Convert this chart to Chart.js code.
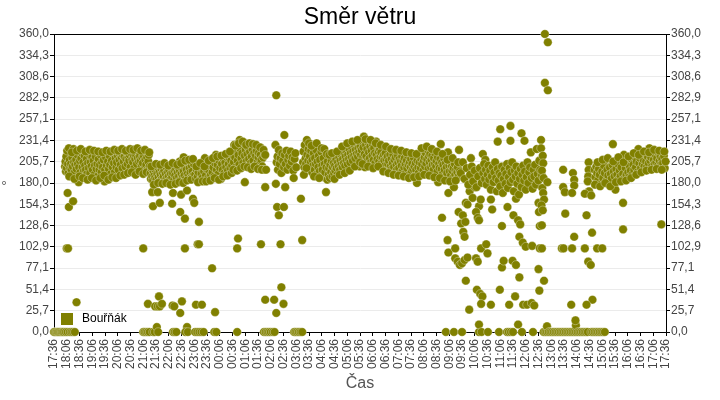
<!DOCTYPE html>
<html>
<head>
<meta charset="utf-8">
<title>Směr větru</title>
<script src="https://cdn.jsdelivr.net/npm/chart.js@4/dist/chart.umd.min.js"></script>
<style>
  html, body { margin: 0; padding: 0; background: #fff; }
  #wrap { width: 720px; height: 400px; }
</style>
</head>
<body>
<div id="wrap"><canvas id="chart" width="720" height="400"></canvas></div>
<script>
"use strict";

const OLIVE = "#808000";
const SERIES_LABEL = "Bouřňák";

// x = minutes after 17:36, y = wind direction in degrees
const TIME_LABELS = ["17:36","18:06","18:36","19:06","19:36","20:06","20:36","21:06","21:36","22:06","22:36","23:06","23:36","00:06","00:36","01:06","01:36","02:06","02:36","03:06","03:36","04:06","04:36","05:06","05:36","06:06","06:36","07:06","07:36","08:06","08:36","09:06","09:36","10:06","10:36","11:06","11:36","12:06","12:36","13:06","13:36","14:06","14:36","15:06","15:36","16:06","16:36","17:06","17:36"];
const Y_TICKS = [0, 25.714, 51.429, 77.143, 102.857, 128.571, 154.286, 180, 205.714, 231.429, 257.143, 282.857, 308.571, 334.286, 360];
const Y_LABELS = ["0,0","25,7","51,4","77,1","102,9","128,6","154,3","180,0","205,7","231,4","257,1","282,9","308,6","334,3","360,0"];

const evening = [
  [0,0],[3,0],[6,0],[9,0],[12,0],[15,0],[18,0],[21,0],[24,0],[28,0],[32,0],[37,0],[41,0],[45,0],[49,0],
  [30,101],[33,101],[32,168],[35,151],[45,158],[53,36],
  [26,200],[27,206],[28,194],[29,212],[30,198],[31,219],[33,203],[34,192],[35,222],[37,208],[38,198],[40,203],[41,196],[43,211],[44,200],[46,221],[47,205],[49,193],[50,202],[52,208],[53,197],[55,214],[56,203],[58,181],[59,199],[61,207],[62,193],[64,210],[66,216],[67,199],[69,205],[70,194],[72,213],[73,201],[75,196],[77,209],[78,191],[80,204],[82,198],[83,215],[85,192],[86,205],[88,200],[90,211],[91,196],[93,207],[95,190],[96,201],[98,212],[100,197],[102,203],[103,188],[105,209],[107,196],[108,202],[110,214],[112,193],[113,205],[115,199],[117,208],[119,182],[120,196],[122,211],[124,201],[125,190],[127,206],[129,197],[131,213],[132,202],[134,191],[136,207],[138,199],[139,216],[141,204],[143,193],[145,210],[147,199],[148,205],[150,213],[152,196],[154,208],[155,215],[157,202],[159,211],[161,198],[162,214],[164,206],[166,212],[168,200],[170,209],[171,217],[173,203],[175,211],[177,207],[178,214],[180,199],[182,216],[184,208],[186,205],[188,212],[189,198],[191,209],[193,214],[195,203],[197,210],[199,218],[200,206],[202,212],[204,207],[206,200],[208,211],[209,204],[211,213],[213,197],[215,208],[217,202],[219,211],[220,196],[222,206],[223,214],[225,200],
  [36,188],[42,217],[48,185],[54,219],[60,188],[63,221],[68,186],[74,218],[79,184],[84,220],[89,186],[94,219],[99,183],[104,218],[109,186],[114,217],[118,189],[123,219],[128,184],[133,218],[137,187],[142,220],[146,186],[151,219],[156,189],[160,221],[165,190],[169,219],[174,192],[179,221],[183,193],[187,220],[192,190],[196,222],[201,194],[205,219],[210,191],[214,220],[218,193],[224,217]
];

const lateEvening = [
  [210,101],[210,0],[213,0],[217,0],[221,0],[225,0],[221,34],[233,0],[237,0],[242,6],[245,0],[238,31],[244,31],[249,31],[247,43],[254,34],
  [231,169],[244,169],[233,152],[249,156],[278,155],[280,168],[279,32],[283,31],[280,0],[284,0],[288,0],
  [299,166],[313,171],[297,145],[308,137],[308,101],[301,37],[297,23],[313,6],[309,0],[315,0],
  [227,192],[228,185],[230,197],[231,188],[233,183],[234,194],[236,189],[238,186],[239,196],[241,184],[243,191],[244,199],[246,187],[248,193],[249,182],[251,190],[253,197],[254,185],[256,192],[258,188],[259,195],[261,183],[263,191],[265,199],[266,186],[268,193],[270,188],[271,196],[273,184],[275,191],[277,198],[278,187],[280,192],[280,203],[282,183],[284,195],[285,189],[287,197],[289,186],[291,193],[292,199],[294,188],[296,195],[296,206],[298,184],[300,191],[301,198],[303,187],[305,194],[305,211],[307,189],[308,200],[310,185],[312,196],[314,191],[315,205],[317,188],[319,198],[321,193],[322,186],[324,201],[326,194],[328,189],[329,203],
  [229,200],[235,178],[240,203],[245,180],[250,202],[255,179],[260,204],[264,180],[269,201],[274,178],[279,204],[286,179],[290,202],[295,181],[299,204],[304,180],[309,207],[313,183],[318,208],[323,184],[327,209]
];

const night = [
  [327,161],[330,156],[341,133],[338,106],[341,106],[372,77],[433,113],[431,101],[449,181],[487,106],[497,175],[334,33],[348,33],[379,24],
  [332,0],[337,0],[342,0],[347,0],[352,0],[377,0],[382,0],[431,0],
  [332,190],[334,185],[336,196],[338,188],[340,193],[343,183],[345,198],[347,191],[349,186],[351,200],[353,194],[355,210],[357,189],[359,197],[361,203],[363,186],[365,195],[367,201],[369,190],[371,206],[373,193],[375,199],[377,188],[379,204],[381,214],[383,196],[385,202],[387,191],[389,207],[391,198],[393,185],[395,203],[397,196],[399,209],[401,192],[403,205],[405,199],[407,211],[409,195],[411,203],[413,210],[415,198],[417,207],[419,201],[421,214],[423,205],[424,226],[426,211],[428,199],[430,218],[432,207],[434,214],[436,202],[437,232],[439,221],[441,210],[443,216],[445,204],[447,229],[449,213],[451,220],[453,206],[455,215],[457,223],[459,209],[461,218],[463,204],[465,212],[467,221],[469,207],[471,216],[473,201],[475,213],[477,219],[479,205],[481,211],[482,216],[484,203],[486,214],[488,208],[490,200],[492,211],[494,196],[496,214],
  [335,200],[339,181],[344,204],[350,182],[354,200],[358,182],[364,207],[368,183],[374,210],[378,186],[384,212],[388,184],[394,213],[398,188],[404,215],[408,189],[414,218],[418,192],[422,196],[427,225],[431,195],[435,228],[440,198],[444,230],[448,200],[452,226],[456,199],[460,228],[464,197],[468,227],[472,200],[476,226],[480,197],[485,223],[489,196],[493,220],
  [497,214],[499,196],[497,39],[518,39],[540,34],[523,23],[494,0],[498,0],[502,0],[506,0],[510,0],[515,0],[519,0],
  [523,286],[542,238],[521,226],[522,179],[544,175],[525,151],[541,151],[529,141],[533,106],[535,54],
  [524,205],[526,212],[527,196],[529,220],[531,203],[533,210],[535,192],[537,216],[539,207],[541,199],[543,214],[545,203],[547,219],[549,196],[551,208],[553,213],[555,201],[557,218],[559,206],[561,211],[563,195],[564,186],[566,209],[568,216],[570,199],
  [565,0],[568,0],[572,0],[576,0],[580,0],[584,0],[581,161],[584,111]
];

const morning = [
  [586,205],[587,218],[589,199],[590,226],[592,210],[593,203],[595,232],[596,214],[598,207],[599,221],[601,198],[602,212],[604,205],[605,219],[607,193],[608,208],[610,201],[611,216],[613,196],[614,210],[616,203],[617,220],[619,191],[620,206],[622,199],[623,213],[625,194],[626,208],[628,188],[629,218],[631,201],[632,196],[634,210],[635,187],[637,203],[638,193],[640,169],[641,199],[643,184],[644,206],[646,190],[647,198],[649,186],[650,202],[652,193],[653,207],[655,188],[656,199],[658,204],[659,192],
  [661,201],[662,195],[664,208],[665,198],[667,190],[668,205],[670,200],[671,211],[673,196],[674,207],[676,202],[677,214],[679,199],[680,209],[682,204],[683,216],[685,201],[686,212],[688,207],[689,219],[691,203],[692,214],[694,209],[695,221],[697,205],[698,216],[700,211],[701,223],[703,207],[704,218],[706,213],[707,226],[709,210],[710,220],[712,215],[713,228],[715,212],[716,222],[718,217],[719,200],[721,224],[722,214],
  [724,220],[725,230],[727,211],[728,223],[729,236],[731,215],[732,199],[734,226],[735,212],[737,221],[738,207],[740,229],[741,217],[743,210],[744,224],[746,205],[747,219],[749,213],[750,227],[752,208],[753,222],[755,216],[756,204],[758,230],[759,214],[761,209],[762,225],[764,218],[765,206],[767,221],[768,212],
  [770,217],[771,204],[773,211],[774,199],[776,214],[777,207],[779,201],[780,216],[782,209],[783,196],[785,212],[786,203],[788,207],[789,194],[791,214],[792,200],[794,209],[795,197],[797,204],[798,215],[800,199],[801,208],[803,193],[804,211],[806,202],[807,196],[809,213],[810,205],[812,198],[813,209],[815,192],[816,206],[818,201],[819,212],[821,195],[822,207],
  [824,199],[825,210],[827,203],[828,192],[830,207],[831,198],[833,213],[834,202],[836,190],[837,205],[839,199],[840,209],[842,194],[843,203],[845,197],[846,211],[848,200],[849,188],[851,204],[852,196],[854,180],[855,207],[857,199],[858,192],
  [860,205],[861,214],[863,198],[864,209],[866,203],[867,218],[869,195],[870,207],[872,211],[873,200],[875,216],[876,204],[878,209],[879,220],[881,197],[882,212],[884,205],[885,215],[887,199],[888,208],[890,213],[891,202],[893,196],[894,210],[896,203],[897,216],[899,200],[900,207],[902,194],[903,211],[904,181],[906,203],[907,198],[909,209],[910,227],[912,197],[913,205],[915,191],[916,202],[918,210],[919,196],[921,188],[922,204],[924,199],[925,192],[927,217],[928,168],[930,201],[931,194],[933,206],[934,189],[936,200],[937,195],[939,186],[940,198],[941,175],[943,203],[944,190],[946,196],[947,185],[949,193],[950,199],[952,188],[953,220],[955,194],
  [588,190],[594,198],[600,228],[606,225],[612,188],[618,228],[624,186],[630,222],[636,221],[642,215],[648,214],[654,216],[660,185],[666,218],[672,190],[678,224],[684,192],[690,228],[696,195],[702,230],[708,200],[714,232],[720,205],[726,203],[733,233],[739,200],[745,232],[751,198],[757,228],[763,200],[769,226],[775,194],[781,224],[787,192],[793,221],[799,190],[805,220],[811,189],[817,219],[823,188],[829,217],[835,186],[841,216],[847,187],[853,215],[859,188],[865,222],[871,190],[877,224],[883,189],[889,221],[895,187],[901,218],[908,186],[914,215],[920,183],[926,208],[932,182],[938,210],[945,183],[951,205],
  [913,138],[926,111],[928,96],[944,101],[922,0],[941,0],[960,0]
];

const midday = [
  [944,89],[950,85],[955,81],[960,83],[966,87],[973,90],[969,62],[977,27],[952,145],[962,141],[958,131],[968,133],[963,121],[966,115],
  [969,156],[973,154],[978,170],[985,162],[990,175],[1000,152],[1004,160],[981,210],[1009,215],[1015,208],[993,145],[997,138],[1000,135],
  [993,89],[997,85],[1005,101],[1017,106],[1020,95],[995,51],[1003,46],[1008,43],[1005,34],[1028,33],[1031,148],[1028,160],
  [1044,230],[1050,245],[1074,249],[1074,231],[1100,240],[1107,231],[1054,128],[1054,78],[1058,86],[1079,86],[1087,81],[1049,51],[1071,33],[1085,43],[1095,66],
  [1067,151],[1081,141],[1087,161],[1092,135],[1097,130],[1095,115],[1103,108],[1110,103],[1125,104],[1104,33],[1113,33],[1124,35],[1130,32],
  [1140,156],[1141,145],[1143,128],[1143,101],[1140,76],[1142,50],
  [1000,0],[1000,9],[1006,0],[1021,0],[1047,0],[1066,0],[1070,0],[1075,0],[1080,0],[1092,9],[1101,0],[1127,0],
  [957,192],[962,205],[966,185],[971,198],[975,178],[979,190],[983,200],[986,182],[990,195],[994,175],[998,188],[1002,198],[1006,180],[1010,192],[1012,203],[1014,185],[1016,196],[1018,178],[1020,190],[1022,201],[1024,184],[1026,195],[1028,172],[1030,188],[1032,199],[1034,181],[1036,193],[1038,205],[1040,186],[1042,170],[1044,197],[1046,183],[1048,192],[1050,176],[1052,189],[1054,200],[1056,168],[1058,185],[1060,196],[1062,179],[1064,191],[1066,203],[1068,174],[1070,187],[1072,198],[1074,181],[1076,193],[1078,205],[1080,184],[1082,170],[1084,195],[1086,188],[1088,200],[1090,179],[1092,192],[1094,166],[1096,185],[1098,197],[1100,175],[1102,190],[1104,201],[1106,183],[1108,194],[1110,172],[1112,187],[1114,205],[1116,180],[1118,193],[1120,199],[1122,217],[1124,186],[1126,173],[1128,196],[1130,188],[1132,202],[1134,178],[1136,221],[1138,191],[1140,183],[1142,207],[1144,196],[1146,232],[1148,189]
];

const afternoon = [
  [1155,360],[1162,350],[1155,301],[1162,292],[1146,222],[1150,213],[1151,204],[1148,195],[1152,186],[1149,174],[1151,168],[1153,160],[1147,153],[1150,147],[1161,181],[1148,129],[1148,101],[1153,62],
  [1152,0],[1156,0],[1160,0],[1160,7],[1164,0],[1168,0],[1172,0],[1176,0],[1180,0],[1184,0],[1188,0],[1192,0],[1196,0],[1200,0],[1204,0],[1208,0],[1212,0],[1216,0],[1220,0],[1224,0],[1228,0],[1228,8],[1227,14],[1232,0],[1236,0],[1240,0],[1244,0],[1248,0],[1252,0],[1256,0],
  [1264,0],[1268,0],[1272,0],[1276,0],[1280,0],[1284,0],[1288,0],[1292,0],[1296,0],
  [1198,196],[1198,175],[1202,169],[1203,143],[1195,101],[1199,101],[1217,33],
  [1221,192],[1224,184],[1224,177],[1219,168],[1224,115],[1219,101],
  [1258,205],[1258,196],[1257,188],[1256,182],[1259,170],[1249,167],[1264,165],[1253,141],[1266,120],[1249,101],[1257,85],[1263,81],[1267,39],[1253,33],
  [1278,101],[1290,101],[1339,156],[1339,124],[1429,130],
  [1272,196],[1274,187],[1276,200],[1278,192],[1280,183],[1282,197],[1284,190],[1286,205],[1288,179],[1290,194],[1292,186],[1294,201],[1296,192],[1298,208],[1300,183],[1302,196],[1304,189],[1306,178],[1308,199],[1310,191],[1312,185],[1314,202],[1315,227],[1317,194],[1319,188],[1321,172],[1323,197],[1325,190],[1327,203],[1329,185],[1331,195],[1333,188],[1335,199],[1337,211],[1339,191],[1341,214],[1343,186],[1345,198],[1347,190],[1349,204],[1351,193],[1353,187],[1355,200],[1357,195],[1359,209],[1361,190],[1363,202],[1365,196],[1367,211],[1369,199],[1371,206],[1373,193],[1375,221],[1377,204],[1379,210],[1381,198],[1383,213],[1385,203],[1387,208],[1389,200],[1391,215],[1393,206],[1395,199],[1397,212],[1399,204],[1401,222],[1403,207],[1405,211],[1407,200],[1409,217],[1411,208],[1413,203],[1415,214],[1417,205],[1419,210],[1421,201],[1423,216],[1425,207],[1427,212],[1429,203],[1431,209],[1433,204],[1435,213],[1437,198],[1439,206],
  [1273,178],[1279,205],[1285,176],[1291,208],[1297,180],[1303,210],[1309,176],[1316,206],[1322,181],[1328,211],[1334,182],[1340,205],[1346,183],[1352,212],[1358,186],[1364,216],[1370,190],[1376,214],[1382,193],[1388,218],[1394,195],[1400,217],[1406,196],[1412,220],[1418,197],[1424,219],[1430,196],[1436,218]
];

const readings = [...evening, ...lateEvening, ...night, ...morning, ...midday, ...afternoon]
  .map(([m, deg]) => ({ x: m, y: deg }));

Chart.defaults.font.family = "'Liberation Sans', Arial, sans-serif";

// top frame line + legend drawn inside the plot, bottom-left
const frame = {
  id: "frame",
  beforeDatasetsDraw(chart) {
    const { ctx, chartArea } = chart;
    const y = Math.floor(chartArea.top) + 0.5;
    ctx.save();
    ctx.strokeStyle = "#000";
    ctx.lineWidth = 1;
    ctx.beginPath();
    ctx.moveTo(chartArea.left, y);
    ctx.lineTo(chartArea.right, y);
    ctx.stroke();
    ctx.restore();
  },
  afterDatasetsDraw(chart) {
    const { ctx, chartArea } = chart;
    const ds = chart.data.datasets[0];
    ctx.save();
    ctx.fillStyle = ds.backgroundColor;
    ctx.fillRect(chartArea.left + 7, chartArea.bottom - 19, 12, 12);
    ctx.fillStyle = "#000";
    ctx.font = "12px 'Liberation Sans', Arial, sans-serif";
    ctx.textBaseline = "middle";
    ctx.fillText(ds.label, chartArea.left + 28, chartArea.bottom - 13);
    ctx.restore();
  },
};

const yTicks = (scale) => { scale.ticks = Y_TICKS.map(v => ({ value: v })); };
const gridColor = (ctx) => (ctx.tick && (ctx.tick.value === 0 || ctx.tick.value === 360)) ? "rgba(0,0,0,0)" : "#ebebeb";

new Chart(document.getElementById("chart"), {
  type: "scatter",
  data: {
    datasets: [{
      label: SERIES_LABEL,
      data: readings,
      backgroundColor: OLIVE,
      borderColor: "rgba(255,255,255,0.55)",
      borderWidth: 0.6,
      pointRadius: 4.3,
      pointHoverRadius: 4.3,
      clip: false,
    }],
  },
  options: {
    responsive: false,
    animation: false,
    devicePixelRatio: 1,
    layout: { padding: 0 },
    plugins: {
      legend: { display: false },
      tooltip: { enabled: false },
      title: {
        display: true,
        text: "Směr větru",
        color: "#000",
        font: { size: 23, weight: "normal" },
        padding: { top: 4, bottom: 2.4 },
      },
    },
    scales: {
      x: {
        type: "linear",
        position: "bottom",
        min: 0,
        max: 1440,
        afterBuildTicks: (scale) => { scale.ticks = TIME_LABELS.map((_, i) => ({ value: i * 30 })); },
        afterFit: (scale) => { scale.height = 68; },
        ticks: {
          autoSkip: false,
          maxRotation: 90,
          minRotation: 90,
          padding: 3,
          color: "#444",
          font: { size: 12 },
          callback: (v, i) => TIME_LABELS[i],
        },
        grid: { display: true, drawOnChartArea: false, tickLength: 4, tickColor: "#000" },
        border: { color: "#000", width: 1 },
        title: { display: true, text: "Čas", color: "#555", font: { size: 16 }, padding: { top: 0, bottom: 7 } },
      },
      y: {
        position: "left",
        min: 0,
        max: 360,
        afterBuildTicks: yTicks,
        afterFit: (scale) => { scale.width = 54; },
        ticks: { color: "#444", font: { size: 12 }, padding: 1, callback: (v, i) => Y_LABELS[i] },
        grid: { color: gridColor, tickColor: "#000", tickLength: 4 },
        border: { color: "#000", width: 1 },
        title: { display: true, text: "°", color: "#555", font: { size: 14 }, padding: 0 },
      },
      y2: {
        position: "right",
        min: 0,
        max: 360,
        afterBuildTicks: yTicks,
        afterFit: (scale) => { scale.width = 54; },
        ticks: { color: "#444", font: { size: 12 }, padding: 1, callback: (v, i) => Y_LABELS[i] },
        grid: { drawOnChartArea: false, tickColor: "#000", tickLength: 4 },
        border: { color: "#000", width: 1 },
      },
    },
  },
  plugins: [frame],
});
</script>
</body>
</html>
